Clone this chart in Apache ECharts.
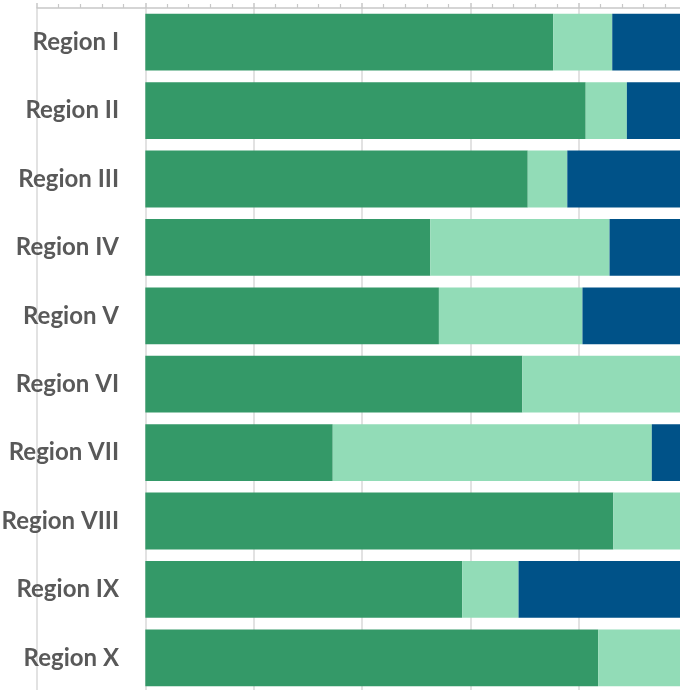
<!DOCTYPE html>
<html>
<head>
<meta charset="utf-8">
<script src="https://cdn.jsdelivr.net/npm/echarts@6/dist/echarts.min.js"></script>
<style>
  html, body { margin: 0; padding: 0; background: #fff; }
  #chart { width: 680px; height: 690px; }
</style>
</head>
<body>
<div id="chart"></div>
<script>
const regions = ['Region I', 'Region II', 'Region III', 'Region IV', 'Region V',
  'Region VI', 'Region VII', 'Region VIII', 'Region IX', 'Region X']
// share of each part, per region (%)
const partA = [75.3, 81.3, 70.6, 52.6, 54.2, 69.6, 34.6, 86.4, 58.5, 83.6]
const partB = [10.9, 7.6, 7.3, 33.1, 26.5, 30.4, 58.9, 13.6, 10.4, 16.4]
const partC = [13.8, 11.1, 22.1, 14.3, 19.3, 0, 6.5, 0, 31.1, 0]

const chart = echarts.init(document.getElementById('chart'))

function bar(name, data, color) {
  return {
    name,
    type: 'bar',
    stack: 'total',
    data,
    barCategoryGap: '17%',
    itemStyle: { color },
    emphasis: { disabled: true },
  }
}

chart.setOption({
  animation: false,
  grid: { left: 37, right: -7, top: 8, bottom: -2, outerBoundsMode: 'none' },
  xAxis: {
    type: 'value',
    position: 'top',
    min: -20,
    max: 100,
    interval: 20,
    axisLine: { show: true, lineStyle: { color: '#c8c8c8', width: 1.5 } },
    axisTick: { show: true, length: 5, lineStyle: { color: '#c8c8c8', width: 1.5 } },
    minorTick: { show: true, splitNumber: 5, length: 4, lineStyle: { color: '#c8c8c8', width: 1.2 } },
    axisLabel: { show: false },
    splitLine: { show: true, lineStyle: { color: '#d9d9d9', width: 1.5 } },
  },
  yAxis: {
    type: 'category',
    data: regions,
    inverse: true,
    axisLine: { show: false },
    axisTick: { show: false },
    axisLabel: {
      // labels sit left of the zero line, inside the plot
      margin: -82,
      color: '#595959',
      fontSize: 24,
      fontWeight: 'bold',
      fontFamily: 'Lato, "DejaVu Sans Condensed", sans-serif',
    },
  },
  series: [
    bar('Part A', partA, '#349968'),
    bar('Part B', partB, '#92dcb7'),
    bar('Part C', partC, '#005288'),
  ],
})
</script>
</body>
</html>
